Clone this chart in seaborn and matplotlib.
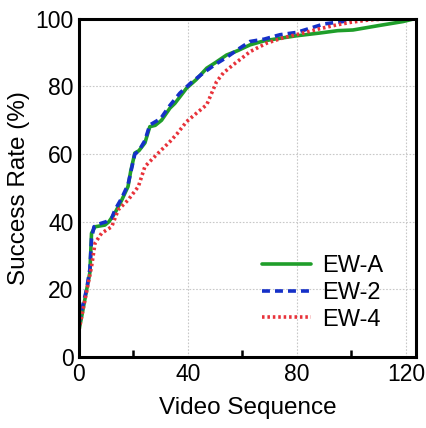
import matplotlib
matplotlib.use("Agg")
import matplotlib.pyplot as plt
from matplotlib.ticker import MultipleLocator
import seaborn as sns
import pandas as pd

series_names = ["EW-A", "EW-2", "EW-4"]

ewa_x = [0, 1, 2.8, 4, 4.6, 5.9, 9.5, 11, 13.2, 15.7, 18, 19, 20.5, 22, 24.2, 26, 28, 30.3,
         33.4, 35.2, 39.5, 43, 46.9, 50, 54.2, 58, 62.8, 68, 75, 80, 88.4, 95, 100.6, 110, 119, 123]
ewa_y = [8, 12, 19.8, 25, 36.6, 38.5, 39, 40, 42.6, 46.4, 50.4, 55, 60.3, 61, 63.3, 68.1, 68.5, 70,
         73.6, 75, 79.5, 82, 85.4, 87, 89.3, 90.5, 92.3, 93.5, 94.4, 95, 95.8, 96.5, 96.7, 98, 99.2, 100]

ew2_x = [0, 1, 2.8, 4, 4.6, 5.5, 8, 10, 12, 13.2, 15.7, 18, 20.5, 22, 24.2, 26, 30, 33, 37, 41,
         45.5, 50, 54, 59, 62.8, 68, 73.8, 80, 84.8, 90, 96.9, 100, 110, 123]
ew2_y = [10, 14, 20, 26, 35, 38.5, 39.5, 40, 41, 43.5, 47, 51, 60, 61, 64, 68.6, 70.5, 74, 78, 81,
         83.9, 86.5, 88.5, 91.3, 93.3, 94, 95.3, 96, 97.2, 98.5, 99.2, 100, 100, 100]

ew4_x = [0, 2.2, 4.6, 5.9, 8.3, 12, 14.4, 18, 21.8, 24.2, 26, 29.1, 33.4, 36, 39.5, 43, 46.9, 50.5,
         53, 56.6, 60, 62.8, 68.9, 75, 82.3, 88, 94.6, 100, 106.8, 115, 123]
ew4_y = [8, 16.9, 26.7, 33.7, 36.6, 38.5, 43.5, 46.4, 50.4, 56.3, 57.8, 60.3, 63.7, 66, 69.6, 72, 74.6, 81.4,
         84, 86.4, 88.5, 90.3, 92.8, 94.4, 95.8, 97, 98.2, 99, 99.7, 100, 100]

x_ticks = [0, 40, 80, 120]
y_ticks = [0, 20, 40, 60, 80, 100]

sns.set_theme(style="white")
plt.rcParams['font.family'] = ['Liberation Sans', 'DejaVu Sans']
plt.rcParams['text.color'] = 'black'
plt.rcParams['axes.labelcolor'] = 'black'
plt.rcParams['xtick.color'] = 'black'
plt.rcParams['ytick.color'] = 'black'

fig = plt.figure(figsize=(4.27, 4.28), dpi=100)
ax = fig.add_axes([0.185, 0.166, 0.789, 0.790])

data = [(ewa_x, ewa_y), (ew2_x, ew2_y), (ew4_x, ew4_y)]
colors = ["#1f9e2a", "#1530c8", "#e8323a"]
styles = [dict(linestyle="-"), dict(dashes=(2.2, 1.4)), dict(dashes=(0.7, 0.8))]
for name, (xs, ys), c, st in zip(series_names, data, colors, styles):
    df = pd.DataFrame({"x": xs, "y": ys})
    sns.lineplot(data=df, x="x", y="y", ax=ax, color=c, lw=2.6, label=name,
                 sort=False, estimator=None, **st)

ax.set_xlim(0, 123.7)
ax.set_ylim(0, 100)
ax.set_xticks(x_ticks)
ax.xaxis.set_minor_locator(MultipleLocator(20))
ax.set_yticks(y_ticks)
ax.tick_params(axis="both", which="both", direction="in", length=5, width=1.8,
               labelsize=16.5, colors="black", labelcolor="black", pad=4)
ax.tick_params(axis="x", which="minor", bottom=True)
ax.grid(True, which="major", linestyle=(0, (1.5, 1.5)), color="#c8c8c8", linewidth=0.8)
for s in ax.spines.values():
    s.set_linewidth(2.2)
    s.set_color("black")
ax.set_xlabel("Video Sequence", fontsize=17.5, labelpad=8, color="black")
ax.set_ylabel("Success Rate (%)", fontsize=17.5, labelpad=4, color="black")

leg = ax.legend(loc="lower right", bbox_to_anchor=(0.93, 0.05), frameon=False,
                fontsize=17, handlelength=2.1, handletextpad=0.45, labelspacing=0.2,
                borderaxespad=0)
for t in leg.get_texts():
    t.set_color("black")

fig.savefig("out.png", dpi=100)
